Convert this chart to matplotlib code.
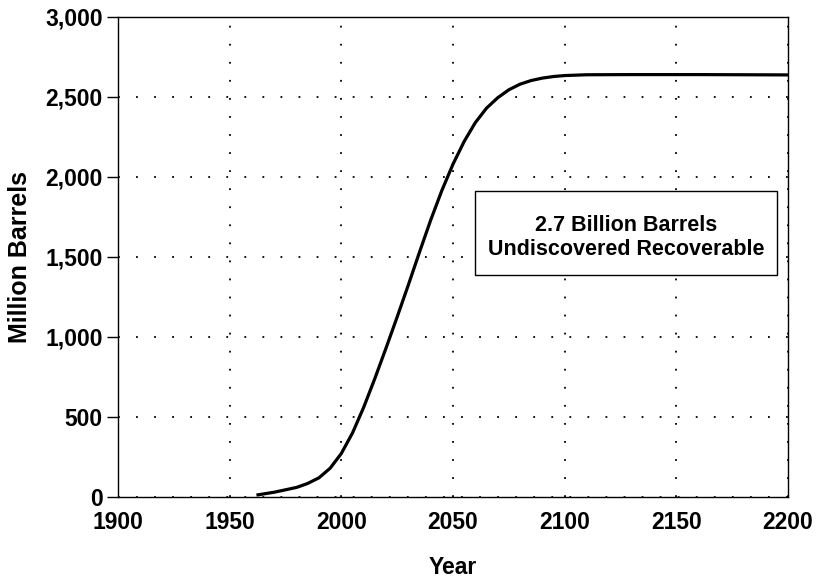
import numpy as np
import matplotlib.pyplot as plt
from matplotlib.patches import Rectangle

plt.rcParams['font.family'] = ['Liberation Sans', 'DejaVu Sans']
plt.rcParams['font.weight'] = 'bold'

# cumulative discoveries, million barrels
years = [1962, 1970, 1980, 1985, 1990, 1995, 2000, 2005, 2010, 2015,
         2020, 2025, 2030, 2035, 2040, 2045, 2050, 2055, 2060, 2065,
         2070, 2075, 2080, 2085, 2090, 2095, 2100, 2110, 2130, 2160, 2200]
barrels = [12, 30, 60, 85, 120, 180, 272, 400, 560, 740,
           930, 1125, 1325, 1530, 1730, 1915, 2080, 2222, 2340, 2430,
           2495, 2545, 2580, 2603, 2618, 2628, 2634, 2639, 2640, 2640, 2638]

xticks = [1900, 1950, 2000, 2050, 2100, 2150, 2200]
yticks = [0, 500, 1000, 1500, 2000, 2500, 3000]
note = "2.7 Billion Barrels\nUndiscovered Recoverable"

fig = plt.figure(figsize=(8.17, 5.8), dpi=100)
ax = fig.add_axes([0.1444, 0.1431, 0.8201, 0.8276])

ax.plot(years, barrels, color='black', linewidth=2.3, solid_capstyle='butt',
        solid_joinstyle='round')

ax.set_xlim(1900, 2200)
ax.set_ylim(0, 3000)
ax.set_xticks(xticks)
ax.set_yticks(yticks)
ax.set_yticklabels([f"{v:,}" for v in yticks])
ax.tick_params(axis='x', length=0, pad=10, labelsize=16.5)
ax.tick_params(axis='y', length=8, width=1, direction='out', pad=3, labelsize=16.5)

ax.grid(True, color='black', linestyle=(0, (1, 9)), linewidth=1.3)
for s in ax.spines.values():
    s.set_linewidth(1.0)

ax.set_xlabel("Year", fontsize=16.5, fontweight='bold', labelpad=16)
ax.set_ylabel("Million Barrels", fontsize=18, fontweight='bold')
ax.yaxis.set_label_coords(-0.128, 0.5)

# annotation box
ax.add_patch(Rectangle((2060, 1387), 135, 525, facecolor='white',
                       edgecolor='black', linewidth=1.0, zorder=3))
ax.text(2127.5, 1622, note, ha='center', va='center', fontsize=15.5,
        fontweight='bold', linespacing=1.2, zorder=4)

fig.savefig('out.png', dpi=100)
